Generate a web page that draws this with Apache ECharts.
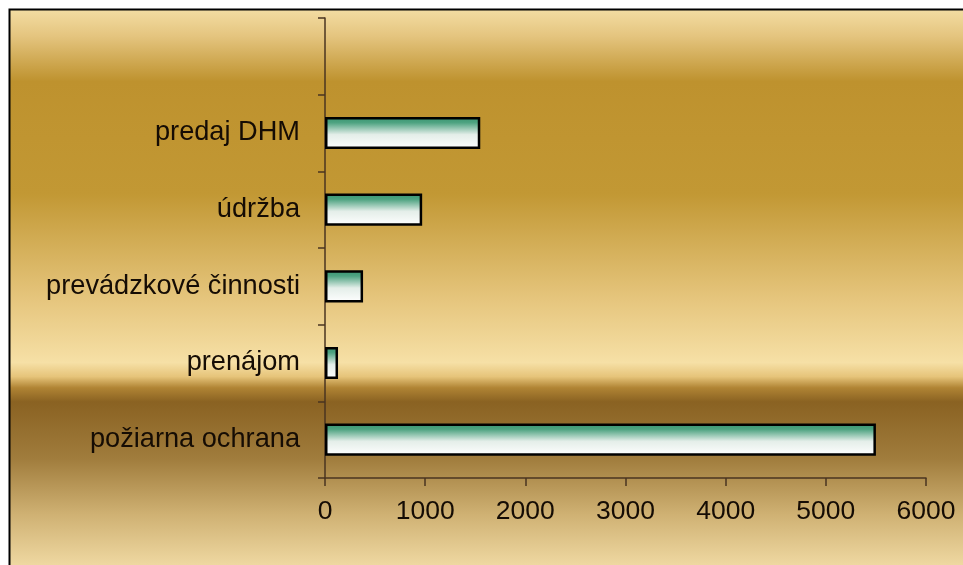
<!DOCTYPE html>
<html>
<head>
<meta charset="utf-8">
<script src="https://cdn.jsdelivr.net/npm/echarts@6/dist/echarts.min.js"></script>
<style>
html,body{margin:0;padding:0;background:#fff;}
#c{width:963px;height:565px;}
</style>
</head>
<body>
<div id="c"></div>
<script>
var categories = ['požiarna ochrana', 'prenájom', 'prevádzkové činnosti', 'údržba', 'predaj DHM', ''];
var values = [5500, 130, 380, 970, 1550, null];
var xTicks = [0, 1000, 2000, 3000, 4000, 5000, 6000];

var chart = echarts.init(document.getElementById('c'));
var bgGrad = new echarts.graphic.LinearGradient(0, 0, 0, 1, [
  {offset: 0, color: '#f4dea4'},
  {offset: 0.05, color: '#e4c47e'},
  {offset: 0.13, color: '#be922e'},
  {offset: 0.33, color: '#c29834'},
  {offset: 0.52, color: '#e6c67e'},
  {offset: 0.63, color: '#f6e0a6'},
  {offset: 0.655, color: '#e6c47a'},
  {offset: 0.675, color: '#b08434'},
  {offset: 0.70, color: '#8a6222'},
  {offset: 0.80, color: '#a07c3c'},
  {offset: 0.90, color: '#cfb173'},
  {offset: 1, color: '#f2dca6'}
]);
var barGrad = new echarts.graphic.LinearGradient(0, 0, 0, 1, [
  {offset: 0, color: '#379470'},
  {offset: 0.18, color: '#4ea381'},
  {offset: 0.55, color: '#e4eee9'},
  {offset: 1, color: '#ffffff'}
]);
chart.setOption({
  animation: false,
  backgroundColor: '#ffffff',
  graphic: [{
    type: 'rect',
    z: -10,
    shape: {x: 9.5, y: 9.5, width: 960, height: 560},
    style: {fill: bgGrad, stroke: '#000000', lineWidth: 2}
  }],
  grid: {left: 325, right: 37, top: 18, bottom: 87, containLabel: false},
  xAxis: {
    type: 'value',
    min: 0, max: 6000, interval: 1000,
    axisLine: {show: true, lineStyle: {color: '#4a3520', width: 1.5}},
    axisTick: {show: true, length: 8, lineStyle: {color: '#4a3520', width: 1.5}},
    splitLine: {show: false},
    axisLabel: {
      margin: 20,
      color: '#150c04',
      fontFamily: 'Liberation Sans, Arial, sans-serif',
      fontSize: 26.5,
      customValues: xTicks,
      formatter: function (v) { return String(v); }
    }
  },
  yAxis: {
    type: 'category',
    data: categories,
    axisLine: {show: true, lineStyle: {color: '#4a3520', width: 1.5}},
    axisTick: {show: true, length: 7, lineStyle: {color: '#4a3520', width: 1.5}},
    axisLabel: {
      margin: 25,
      color: '#150c04',
      fontFamily: 'Liberation Sans, Arial, sans-serif',
      fontSize: 27.2
    }
  },
  series: [{
    type: 'bar',
    data: values,
    barWidth: '42%',
    itemStyle: {color: barGrad, borderColor: '#000000', borderWidth: 2.5}
  }]
});
</script>
</body>
</html>
